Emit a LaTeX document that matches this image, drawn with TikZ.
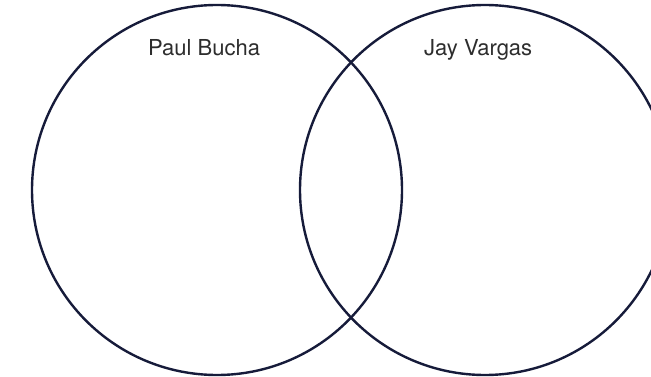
\documentclass[tikz,border=0pt]{standalone}
\usepackage{fontspec}
\setmainfont{TeX Gyre Heros}
\definecolor{ringcol}{RGB}{22,27,58}
\definecolor{labcol}{RGB}{45,45,45}
\begin{document}
\begin{tikzpicture}[x=1pt,y=-1pt,
  ring/.style={draw=ringcol,line width=2.4pt,circle,minimum size=370pt,inner sep=0pt},
  lab/.style={text=labcol,font=\fontsize{22}{26}\selectfont,anchor=base west,inner sep=0pt}]
\useasboundingbox (0,0) rectangle (651,377);
\clip (0,0) rectangle (651,377);
\fill[white] (0,0) rectangle (651,377);
\node[ring] (left) at (217,190) {};
\node[ring] (right) at (485,190) {};
\node[lab] (paul) at (148,56) {Paul Bucha};
\node[lab] (jay) at (424,56) {Jay Vargas};
\end{tikzpicture}
\end{document}
